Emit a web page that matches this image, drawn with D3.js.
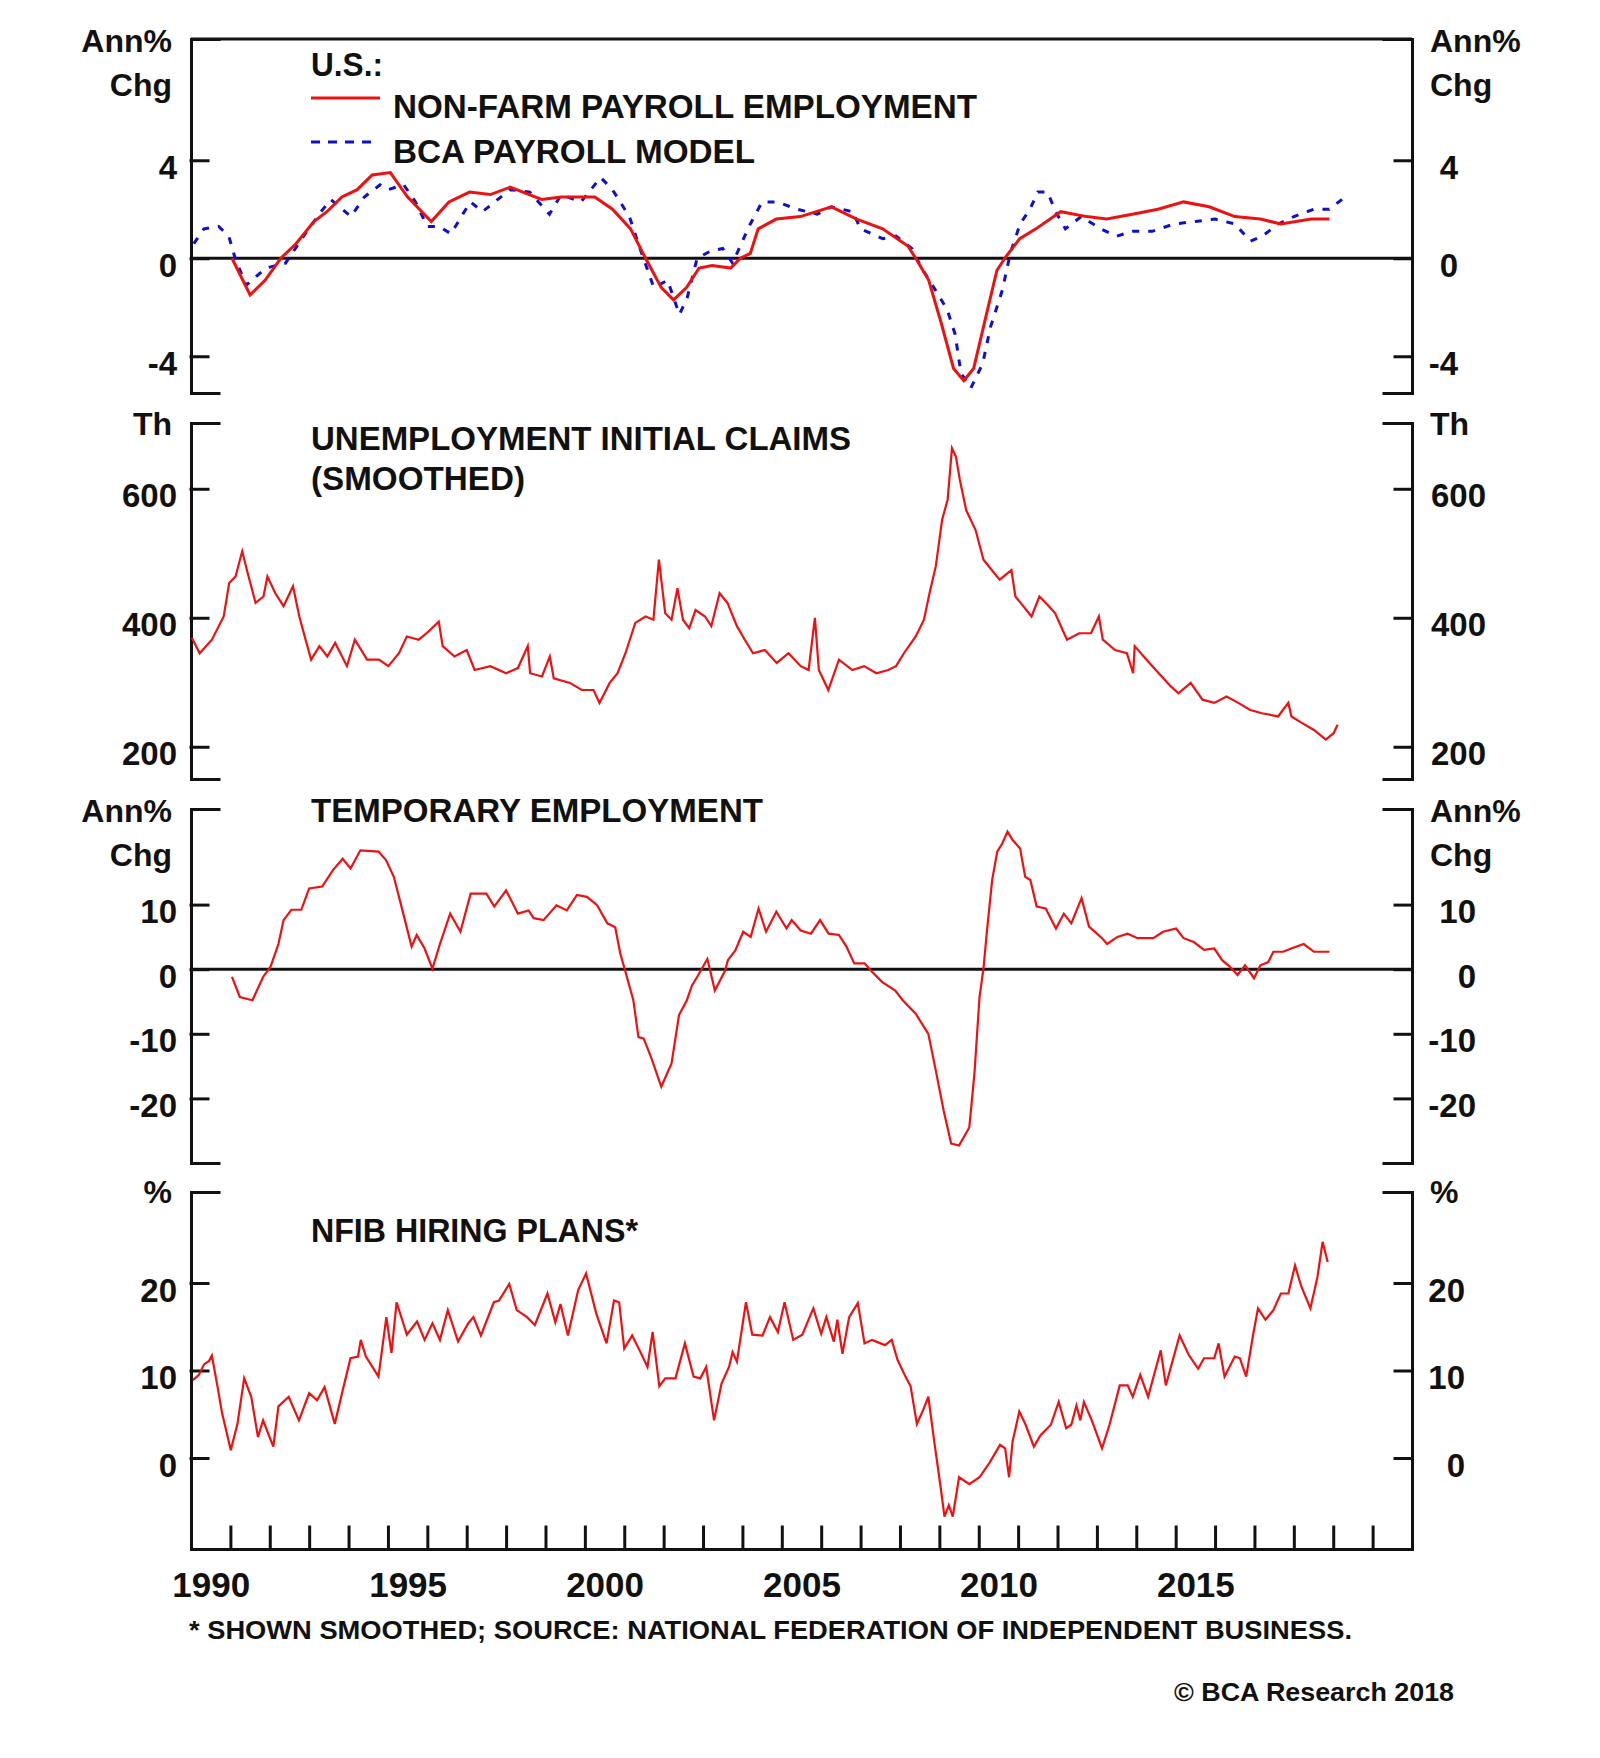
<!DOCTYPE html>
<html><head><meta charset="utf-8">
<script src="https://cdn.jsdelivr.net/npm/d3@7"></script>
<style>body{margin:0;background:#fff} text{font-family:"Liberation Sans",Arial,sans-serif;font-weight:bold;fill:#111}</style>
</head><body>
<svg id="c" width="1600" height="1758"></svg>
<script>
// ---------- DATA (year, value) ----------
const payroll = [[1991.04,0],[1991.5,-1.5],[1991.88,-0.9],[1992.28,0],[1992.67,0.6],[1993.12,1.5],[1993.45,1.9],[1993.83,2.5],[1994.22,2.8],[1994.6,3.4],[1995.06,3.5],[1995.5,2.5],[1996.1,1.5],[1996.55,2.3],[1997.07,2.7],[1997.6,2.6],[1998.1,2.9],[1998.9,2.4],[1999.4,2.5],[2000.25,2.5],[2000.7,2.0],[2001.16,1.2],[2001.54,0],[2001.94,-1.2],[2002.25,-1.7],[2002.58,-1.2],[2002.9,-0.4],[2003.23,-0.3],[2003.7,-0.4],[2003.95,0],[2004.2,0.2],[2004.4,1.2],[2004.86,1.6],[2005.47,1.7],[2006.26,2.1],[2006.9,1.6],[2007.56,1.2],[2008.2,0.5],[2008.4,0],[2008.73,-0.9],[2009.04,-2.6],[2009.36,-4.5],[2009.62,-5.0],[2009.87,-4.5],[2010.15,-2.6],[2010.46,-0.5],[2010.66,0],[2011.04,0.8],[2011.45,1.2],[2012.08,1.9],[2012.74,1.7],[2013.25,1.6],[2013.9,1.8],[2014.55,2.0],[2015.2,2.3],[2015.85,2.1],[2016.5,1.7],[2017.15,1.6],[2017.67,1.4],[2018.44,1.6],[2018.9,1.6]];
const payrollModel = [[1990.07,0.6],[1990.33,1.2],[1990.7,1.3],[1990.96,0.9],[1991.12,0],[1991.4,-1.1],[1991.9,-0.4],[1992.4,-0.2],[1992.9,1.0],[1993.3,1.9],[1993.55,2.4],[1994.06,1.7],[1994.4,2.5],[1994.8,3.0],[1995.0,2.8],[1995.4,3.0],[1995.7,2.3],[1996.0,1.3],[1996.3,1.3],[1996.6,1.0],[1996.9,1.8],[1997.1,2.3],[1997.4,1.9],[1998.1,2.8],[1998.6,2.7],[1999.1,1.8],[1999.4,2.6],[1999.9,2.3],[2000.4,3.3],[2000.7,2.8],[2001.13,1.7],[2001.4,0.4],[2001.75,-1.2],[2002.1,-0.9],[2002.4,-2.3],[2002.6,-1.6],[2002.85,0],[2003.2,0.3],[2003.5,0.4],[2003.75,-0.2],[2004.0,0.7],[2004.2,1.4],[2004.5,2.3],[2004.87,2.3],[2005.4,2.0],[2005.9,1.8],[2006.26,2.1],[2006.8,1.9],[2007.0,1.2],[2007.56,0.8],[2007.9,0.9],[2008.3,0.4],[2008.55,-0.4],[2008.9,-1.3],[2009.2,-2.1],[2009.4,-3.1],[2009.55,-4.7],[2009.8,-5.3],[2010.1,-4.3],[2010.3,-2.8],[2010.6,-1.3],[2010.8,0.2],[2011.05,1.4],[2011.3,2.0],[2011.5,2.7],[2011.75,2.7],[2011.95,1.9],[2012.2,1.2],[2012.6,1.7],[2013.1,1.2],[2013.5,0.9],[2013.9,1.1],[2014.4,1.1],[2014.96,1.4],[2015.5,1.5],[2016.0,1.6],[2016.5,1.4],[2016.9,0.7],[2017.2,0.9],[2017.6,1.4],[2018.0,1.7],[2018.5,2.0],[2018.9,2.0],[2019.3,2.5]];
const claims = [[1990.02,369],[1990.22,345],[1990.53,366],[1990.83,402],[1990.97,454],[1991.13,464],[1991.3,503],[1991.44,469],[1991.64,423],[1991.84,433],[1991.94,464],[1992.14,438],[1992.35,418],[1992.59,449],[1992.75,402],[1992.91,366],[1993.05,335],[1993.26,356],[1993.46,340],[1993.66,361],[1993.96,325],[1994.16,366],[1994.47,335],[1994.77,335],[1995.01,325],[1995.28,345],[1995.48,371],[1995.78,366],[1995.98,376],[1996.29,394],[1996.39,356],[1996.69,340],[1997.0,350],[1997.2,319],[1997.6,325],[1998.0,314],[1998.3,322],[1998.55,356],[1998.61,314],[1998.91,309],[1999.11,340],[1999.21,306],[1999.62,299],[1999.92,288],[2000.22,288],[2000.37,268],[2000.63,299],[2000.83,314],[2001.03,345],[2001.28,392],[2001.54,402],[2001.74,397],[2001.88,490],[2002.04,407],[2002.2,397],[2002.35,446],[2002.49,397],[2002.65,384],[2002.81,412],[2003.05,402],[2003.21,387],[2003.42,438],[2003.62,423],[2003.86,387],[2004.06,366],[2004.27,345],[2004.57,350],[2004.87,330],[2005.17,345],[2005.48,325],[2005.68,319],[2005.84,400],[2005.94,319],[2006.18,288],[2006.45,335],[2006.79,319],[2007.09,325],[2007.4,314],[2007.7,319],[2007.9,325],[2008.1,345],[2008.4,371],[2008.61,397],[2008.75,438],[2008.91,480],[2009.07,552],[2009.21,583],[2009.32,663],[2009.42,650],[2009.52,614],[2009.68,567],[2009.92,536],[2010.12,490],[2010.33,474],[2010.53,459],[2010.83,474],[2010.93,433],[2011.13,418],[2011.34,402],[2011.54,433],[2011.78,418],[2011.94,407],[2012.24,366],[2012.55,376],[2012.85,376],[2013.05,402],[2013.15,366],[2013.46,350],[2013.76,345],[2013.92,314],[2013.96,356],[2014.26,335],[2014.57,314],[2014.87,294],[2015.07,283],[2015.38,299],[2015.68,273],[2015.98,268],[2016.29,278],[2016.59,268],[2016.89,257],[2017.19,252],[2017.6,247],[2017.86,268],[2017.94,247],[2018.2,237],[2018.51,226],[2018.81,211],[2019.01,221],[2019.11,234]];
const tempEmp = [[1991.04,-1.2],[1991.24,-4.3],[1991.56,-4.8],[1991.83,-1.2],[1992.02,0.4],[1992.22,3.9],[1992.35,7.6],[1992.55,9.2],[1992.8,9.2],[1993.0,12.5],[1993.33,12.8],[1993.6,15.3],[1993.85,17.1],[1994.05,15.6],[1994.3,18.4],[1994.76,18.2],[1994.95,16.9],[1995.15,14.3],[1995.41,8.1],[1995.6,3.5],[1995.73,5.3],[1995.93,3.2],[1996.13,0.1],[1996.32,3.9],[1996.58,8.6],[1996.84,5.8],[1997.1,11.7],[1997.5,11.7],[1997.7,9.7],[1998.0,12.2],[1998.3,8.6],[1998.57,9.1],[1998.7,7.9],[1998.95,7.6],[1999.28,9.9],[1999.54,9.1],[1999.8,11.5],[2000.05,11.2],[2000.31,9.9],[2000.57,7.1],[2000.77,6.5],[2000.9,2.4],[2001.03,-0.4],[2001.23,-4.8],[2001.36,-10.5],[2001.49,-10.7],[2001.68,-13.6],[2001.94,-18.2],[2002.2,-14.6],[2002.39,-7.1],[2002.59,-4.8],[2002.72,-2.5],[2002.85,-1.2],[2003.11,1.6],[2003.3,-3.3],[2003.56,-0.2],[2003.63,1.4],[2003.82,2.9],[2004.02,5.8],[2004.21,5.0],[2004.41,9.4],[2004.6,5.8],[2004.86,8.9],[2005.12,6.3],[2005.25,7.6],[2005.48,6.0],[2005.74,5.5],[2005.97,7.6],[2006.19,5.5],[2006.45,5.3],[2006.64,3.5],[2006.84,0.9],[2007.1,0.9],[2007.29,-0.4],[2007.55,-2.0],[2007.88,-3.3],[2008.07,-4.8],[2008.4,-6.9],[2008.72,-10.0],[2008.91,-15.7],[2009.11,-21.9],[2009.3,-27.0],[2009.5,-27.3],[2009.76,-24.5],[2009.89,-16.2],[2010.02,-4.3],[2010.12,0.1],[2010.21,6.0],[2010.34,13.8],[2010.47,18.2],[2010.6,19.5],[2010.73,21.3],[2010.86,20.0],[2011.05,18.7],[2011.18,14.3],[2011.31,13.8],[2011.47,9.7],[2011.7,9.4],[2011.96,6.3],[2012.16,8.6],[2012.35,7.1],[2012.61,11.0],[2012.8,6.6],[2013.13,4.8],[2013.26,3.9],[2013.52,5.0],[2013.78,5.5],[2014.03,4.8],[2014.43,4.8],[2014.68,5.8],[2015.01,6.3],[2015.2,4.8],[2015.46,4.2],[2015.72,3.0],[2015.98,3.2],[2016.18,1.4],[2016.37,0.4],[2016.57,-0.9],[2016.76,0.6],[2016.99,-1.4],[2017.15,0.6],[2017.35,1.1],[2017.48,2.7],[2017.73,2.7],[2017.93,3.2],[2018.25,3.9],[2018.51,2.7],[2018.9,2.7]];
const nfib = [[1990.05,8.9],[1990.2,9.5],[1990.33,10.7],[1990.46,11.1],[1990.53,11.7],[1990.66,8.5],[1990.79,5.1],[1991.01,0.9],[1991.18,3.9],[1991.35,9.1],[1991.53,7.0],[1991.7,2.4],[1991.83,4.3],[1992.09,1.3],[1992.22,5.9],[1992.48,7.0],[1992.74,4.3],[1993.0,7.4],[1993.2,6.6],[1993.39,8.1],[1993.65,3.9],[1993.85,7.7],[1994.05,11.4],[1994.24,11.6],[1994.31,13.5],[1994.44,11.6],[1994.76,9.3],[1994.96,16.1],[1995.09,12.0],[1995.22,17.8],[1995.48,14.1],[1995.74,15.6],[1995.93,13.5],[1996.13,15.4],[1996.32,13.5],[1996.52,16.9],[1996.78,13.3],[1997.04,15.4],[1997.17,16.1],[1997.36,14.0],[1997.69,17.8],[1997.82,18.0],[1998.08,19.9],[1998.27,16.9],[1998.53,16.1],[1998.73,15.2],[1999.05,18.8],[1999.25,15.5],[1999.38,17.6],[1999.57,14.0],[1999.83,19.2],[2000.03,21.1],[2000.29,16.5],[2000.55,13.1],[2000.74,18.0],[2000.87,17.8],[2001.0,12.5],[2001.2,14.0],[2001.39,12.3],[2001.59,10.4],[2001.72,14.4],[2001.89,8.2],[2002.04,9.1],[2002.3,9.1],[2002.54,13.1],[2002.76,9.3],[2002.93,9.1],[2003.08,10.4],[2003.28,4.3],[2003.47,8.5],[2003.66,10.4],[2003.75,12.1],[2003.86,11.0],[2004.09,17.8],[2004.25,14.1],[2004.51,14.0],[2004.7,16.1],[2004.9,14.4],[2005.07,17.8],[2005.29,13.5],[2005.52,14.1],[2005.8,17.1],[2006.0,14.2],[2006.13,16.1],[2006.32,13.3],[2006.41,15.8],[2006.54,11.9],[2006.71,16.1],[2006.93,17.7],[2007.1,13.1],[2007.29,13.5],[2007.62,12.9],[2007.79,13.5],[2007.94,11.2],[2008.14,9.3],[2008.27,8.2],[2008.43,3.9],[2008.59,5.5],[2008.72,7.0],[2008.87,1.9],[2009.04,-3.6],[2009.13,-6.7],[2009.24,-5.4],[2009.34,-6.7],[2009.5,-2.2],[2009.76,-3.0],[2010.02,-2.2],[2010.28,-0.5],[2010.54,1.5],[2010.67,1.1],[2010.77,-2.2],[2010.86,1.9],[2011.03,5.3],[2011.19,3.8],[2011.4,1.3],[2011.57,2.6],[2011.83,3.8],[2012.03,6.4],[2012.22,3.4],[2012.35,3.8],[2012.48,6.0],[2012.58,4.3],[2012.67,6.4],[2012.87,4.3],[2013.13,1.1],[2013.32,3.8],[2013.58,8.3],[2013.78,8.3],[2013.91,7.0],[2014.1,9.5],[2014.3,7.0],[2014.62,12.3],[2014.75,8.3],[2015.1,14.0],[2015.33,11.8],[2015.57,10.2],[2015.72,11.4],[2015.98,11.4],[2016.09,13.1],[2016.24,9.3],[2016.5,11.6],[2016.63,11.4],[2016.79,9.3],[2016.97,14.2],[2017.09,17.1],[2017.28,15.8],[2017.48,16.9],[2017.67,18.8],[2017.86,18.8],[2018.03,22.0],[2018.19,19.6],[2018.42,17.1],[2018.6,20.7],[2018.73,24.7],[2018.86,22.4]];

const ticksP1 = [-4, 0, 4];
const ticksP2 = [200, 400, 600];
const ticksP3 = [-20, -10, 0, 10];
const ticksP4 = [0, 10, 20];
const yearTicks = d3.range(1991, 2021);
const yearLabels = [1990, 1995, 2000, 2005, 2010, 2015];

// ---------- LAYOUT ----------
const svg = d3.select("#c");
const L = 191, R = 1412;
const x = d3.scaleLinear().domain([1990, 2021]).range([L, R]);
const RED = "#ee1111", BLUE = "#1010cc";

const panels = [
  {top: 39, bot: 393, dom: [-5.5, 8.95], ticks: ticksP1, rEnd: 46},
  {top: 423, bot: 779, dom: [150, 702], ticks: ticksP2, rEnd: 74},
  {top: 809, bot: 1163, dom: [-30, 24.8], ticks: ticksP3, rEnd: 64},
  {top: 1192, bot: 1549, dom: [-10.4, 30.4], ticks: ticksP4, rEnd: 53}
];
panels.forEach(p => p.y = d3.scaleLinear().domain(p.dom).range([p.bot, p.top]));

const fmt = d => String(d);
function styleAxis(g) {
  g.selectAll("path,line").attr("stroke", "#111").attr("stroke-width", 3).attr("stroke-linecap", "square");
  g.selectAll("text").attr("font-size", 33).attr("font-family", null);
}

panels.forEach((p, i) => {
  const gl = svg.append("g").attr("transform", `translate(${L},0)`)
    .call(d3.axisLeft(p.y).tickValues(p.ticks).tickFormat(fmt).tickSize(-17).tickSizeOuter(-28).tickPadding(14));
  styleAxis(gl);
  gl.selectAll("text").attr("dy", "18px");
  const gr = svg.append("g").attr("transform", `translate(${R},0)`)
    .call(d3.axisRight(p.y).tickValues(p.ticks).tickFormat(fmt).tickSize(-17).tickSizeOuter(-28));
  styleAxis(gr);
  gr.selectAll("text").attr("dy", "18px").attr("x", p.rEnd).attr("text-anchor", "end");
});

// full top border of first panel
svg.append("line").attr("x1", L).attr("x2", R).attr("y1", panels[0].top).attr("y2", panels[0].top)
  .attr("stroke", "#111").attr("stroke-width", 3);

// zero lines
[0, 2].forEach(i => {
  const p = panels[i];
  svg.append("line").attr("x1", L).attr("x2", R).attr("y1", p.y(0)).attr("y2", p.y(0))
    .attr("stroke", "#111").attr("stroke-width", 3);
});

// x axis
const gx = svg.append("g").attr("transform", `translate(0,${panels[3].bot})`)
  .call(d3.axisBottom(x).tickValues(yearTicks).tickSize(-22).tickSizeOuter(0).tickFormat(""));
styleAxis(gx);
const gxl = svg.append("g").attr("transform", `translate(0,${panels[3].bot})`)
  .call(d3.axisBottom(x).tickValues(yearLabels.map(d => d + 0.5)).tickSize(0).tickFormat(d => Math.floor(d)));
gxl.select(".domain").remove();
gxl.selectAll("text").attr("font-family", null).attr("font-size", 35).attr("y", 48).attr("dy", 0).attr("fill", "#111");

// lines
const mk = p => d3.line().x(d => x(d[0])).y(d => p.y(d[1]));
svg.append("path").datum(payrollModel).attr("d", mk(panels[0])).attr("fill", "none")
  .attr("stroke", BLUE).attr("stroke-width", 3).attr("stroke-dasharray", "7,9");
svg.append("path").datum(payroll).attr("d", mk(panels[0])).attr("fill", "none")
  .attr("stroke", RED).attr("stroke-width", 3);
svg.append("path").datum(claims).attr("d", mk(panels[1])).attr("fill", "none")
  .attr("stroke", RED).attr("stroke-width", 2.2);
svg.append("path").datum(tempEmp).attr("d", mk(panels[2])).attr("fill", "none")
  .attr("stroke", RED).attr("stroke-width", 2.2);
svg.append("path").datum(nfib).attr("d", mk(panels[3])).attr("fill", "none")
  .attr("stroke", RED).attr("stroke-width", 2.2);

// text helpers
function txt(s, xx, yy, size, anchor, len) {
  const t = svg.append("text").attr("x", xx).attr("y", yy).attr("font-size", size)
    .attr("text-anchor", anchor || "start").text(s);
  if (len) t.attr("textLength", len).attr("lengthAdjust", "spacingAndGlyphs");
  return t;
}
// unit labels
txt("Ann%", 172, 52, 32, "end"); txt("Chg", 172, 96, 32, "end");
txt("Ann%", 1430, 52, 32); txt("Chg", 1430, 96, 32);
txt("Th", 172, 435, 32, "end"); txt("Th", 1430, 435, 32);
txt("Ann%", 172, 822, 32, "end"); txt("Chg", 172, 866, 32, "end");
txt("Ann%", 1430, 822, 32); txt("Chg", 1430, 866, 32);
txt("%", 172, 1203, 32, "end"); txt("%", 1430, 1203, 32);

// legend / titles
txt("U.S.:", 311, 76, 33, "start", 72);
svg.append("line").attr("x1", 311).attr("x2", 380).attr("y1", 98).attr("y2", 98).attr("stroke", RED).attr("stroke-width", 3);
txt("NON-FARM PAYROLL EMPLOYMENT", 393, 118, 33, "start", 584);
svg.append("line").attr("x1", 311).attr("x2", 378).attr("y1", 142).attr("y2", 142).attr("stroke", BLUE).attr("stroke-width", 3).attr("stroke-dasharray", "9,8");
txt("BCA PAYROLL MODEL", 393, 163, 33, "start", 362);
txt("UNEMPLOYMENT INITIAL CLAIMS", 311, 450, 33, "start", 540);
txt("(SMOOTHED)", 311, 490, 33, "start", 214);
txt("TEMPORARY EMPLOYMENT", 311, 822, 33, "start", 452);
txt("NFIB HIRING PLANS*", 311, 1242, 33, "start", 327);
txt("* SHOWN SMOOTHED; SOURCE: NATIONAL FEDERATION OF INDEPENDENT BUSINESS.", 189, 1639, 25, "start", 1163);
txt("\u00A9 BCA Research 2018", 1174, 1701, 26, "start", 280);
</script>
</body></html>
